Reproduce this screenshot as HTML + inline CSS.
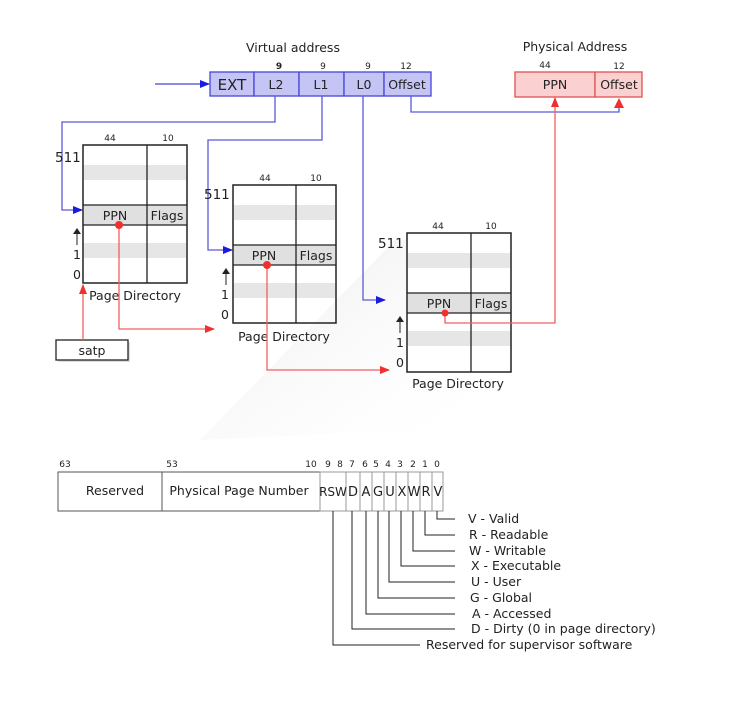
<!DOCTYPE html>
<html><head><meta charset="utf-8"><style>
html,body{margin:0;padding:0;background:#fff;width:756px;height:714px;overflow:hidden}
svg text{font-family:"DejaVu Sans","Liberation Sans",sans-serif;fill:#222}
</style></head><body>
<svg width="756" height="714" viewBox="0 0 756 714" xmlns="http://www.w3.org/2000/svg">
<defs>
<marker id="ab" markerWidth="10" markerHeight="8" refX="9" refY="4" orient="auto" markerUnits="userSpaceOnUse"><path d="M0,0 L10,4 L0,8 Z" fill="#1a1ae0"/></marker>
<marker id="ar" markerWidth="10" markerHeight="8" refX="9" refY="4" orient="auto" markerUnits="userSpaceOnUse"><path d="M0,0 L10,4 L0,8 Z" fill="#f03030"/></marker>
<marker id="ak" markerWidth="6" markerHeight="8" refX="5" refY="4" orient="auto" markerUnits="userSpaceOnUse"><path d="M0,0 L6,4 L0,8 Z" fill="#222"/></marker>
<linearGradient id="sh" x1="0" y1="0" x2="1" y2="1"><stop offset="0" stop-color="#e4e4e4"/><stop offset="1" stop-color="#fff" stop-opacity="0"/></linearGradient>
</defs>
<polygon points="395,240 407,240 407,372 480,395 420,430 200,440" fill="url(#sh)" opacity="0.8"/>

<text x="293" y="52" font-size="12.5" text-anchor="middle">Virtual address</text>
<g font-size="9" text-anchor="middle"><text x="279" y="69" font-weight="bold">9</text><text x="323" y="69">9</text><text x="368" y="69">9</text><text x="406" y="69">12</text></g>
<g fill="#c5c5f5" stroke="#4646d8" stroke-width="1.3">
<rect x="210" y="72" width="44" height="24"/><rect x="254" y="72" width="45" height="24"/><rect x="299" y="72" width="45" height="24"/><rect x="344" y="72" width="40" height="24"/><rect x="384" y="72" width="47" height="24"/>
</g>
<text x="232" y="90" font-size="15" text-anchor="middle">EXT</text>
<g font-size="12.5" text-anchor="middle"><text x="276" y="89">L2</text><text x="321" y="89">L1</text><text x="364" y="89">L0</text><text x="407" y="89">Offset</text></g>
<line x1="155" y1="84" x2="209" y2="84" stroke="#4646d8" stroke-width="1.3" marker-end="url(#ab)"/>

<text x="575" y="51" font-size="12.5" text-anchor="middle">Physical Address</text>
<g font-size="9" text-anchor="middle"><text x="545" y="68">44</text><text x="619" y="69">12</text></g>
<g fill="#fbd0d0" stroke="#e05050" stroke-width="1.3"><rect x="515" y="72" width="80" height="25"/><rect x="595" y="72" width="47" height="25"/></g>
<g font-size="12.5" text-anchor="middle"><text x="555" y="89">PPN</text><text x="619" y="89">Offset</text></g>

<g fill="none" stroke="#5a5ad8" stroke-width="1.3">
<polyline points="411,96 411,112 619,112 619,106"/>
<polyline points="275,96 275,122 62,122 62,210 82,210" marker-end="url(#ab)"/>
<polyline points="322,96 322,140 208,140 208,250 232,250" marker-end="url(#ab)"/>
<polyline points="363,96 363,300 385,300" marker-end="url(#ab)"/>
</g>

<g>
<rect x="84" y="165" width="102" height="15" fill="#e6e6e6"/><rect x="84" y="243" width="102" height="15" fill="#e6e6e6"/>
<rect x="84" y="205" width="102" height="20" fill="#e0e0e0"/>
<rect x="83" y="145" width="104" height="138" fill="none" stroke="#222" stroke-width="1.5"/>
<line x1="83" y1="205" x2="187" y2="205" stroke="#222" stroke-width="1.3"/><line x1="83" y1="225" x2="187" y2="225" stroke="#222" stroke-width="1.3"/>
<line x1="147" y1="145" x2="147" y2="283" stroke="#222" stroke-width="1.3"/>
<g font-size="9" text-anchor="middle"><text x="110" y="141">44</text><text x="168" y="141">10</text></g>
<text x="55" y="162" font-size="13.5">511</text>
<text x="115" y="220" font-size="12.5" text-anchor="middle">PPN</text><text x="167" y="220" font-size="12.5" text-anchor="middle">Flags</text>
<line x1="77" y1="245" x2="77" y2="229" stroke="#222" marker-end="url(#ak)"/>
<text x="77" y="259" font-size="12.5" text-anchor="middle">1</text><text x="77" y="279" font-size="12.5" text-anchor="middle">0</text>
<text x="135" y="300" font-size="12.5" text-anchor="middle">Page Directory</text>
</g>
<g>
<rect x="234" y="205" width="101" height="15" fill="#e6e6e6"/><rect x="234" y="283" width="101" height="15" fill="#e6e6e6"/>
<rect x="234" y="245" width="101" height="20" fill="#e0e0e0"/>
<rect x="233" y="185" width="103" height="138" fill="none" stroke="#222" stroke-width="1.5"/>
<line x1="233" y1="245" x2="336" y2="245" stroke="#222" stroke-width="1.3"/><line x1="233" y1="265" x2="336" y2="265" stroke="#222" stroke-width="1.3"/>
<line x1="296" y1="185" x2="296" y2="323" stroke="#222" stroke-width="1.3"/>
<g font-size="9" text-anchor="middle"><text x="265" y="181">44</text><text x="316" y="181">10</text></g>
<text x="204" y="199" font-size="13.5">511</text>
<text x="264" y="260" font-size="12.5" text-anchor="middle">PPN</text><text x="316" y="260" font-size="12.5" text-anchor="middle">Flags</text>
<line x1="226" y1="285" x2="226" y2="269" stroke="#222" marker-end="url(#ak)"/>
<text x="225" y="299" font-size="12.5" text-anchor="middle">1</text><text x="225" y="319" font-size="12.5" text-anchor="middle">0</text>
<text x="284" y="341" font-size="12.5" text-anchor="middle">Page Directory</text>
</g>
<g>
<rect x="408" y="253" width="102" height="15" fill="#e6e6e6"/><rect x="408" y="331" width="102" height="15" fill="#e6e6e6"/>
<rect x="408" y="293" width="102" height="20" fill="#e0e0e0"/>
<rect x="407" y="233" width="104" height="139" fill="none" stroke="#222" stroke-width="1.5"/>
<line x1="407" y1="293" x2="511" y2="293" stroke="#222" stroke-width="1.3"/><line x1="407" y1="313" x2="511" y2="313" stroke="#222" stroke-width="1.3"/>
<line x1="471" y1="233" x2="471" y2="372" stroke="#222" stroke-width="1.3"/>
<g font-size="9" text-anchor="middle"><text x="438" y="229">44</text><text x="491" y="229">10</text></g>
<text x="378" y="248" font-size="13.5">511</text>
<text x="439" y="308" font-size="12.5" text-anchor="middle">PPN</text><text x="491" y="308" font-size="12.5" text-anchor="middle">Flags</text>
<line x1="400" y1="333" x2="400" y2="317" stroke="#222" marker-end="url(#ak)"/>
<text x="400" y="347" font-size="12.5" text-anchor="middle">1</text><text x="400" y="367" font-size="12.5" text-anchor="middle">0</text>
<text x="458" y="388" font-size="12.5" text-anchor="middle">Page Directory</text>
</g>

<rect x="58" y="342" width="72" height="20" fill="#bbb" opacity="0.5"/>
<rect x="56" y="340" width="72" height="20" fill="#fff" stroke="#222" stroke-width="1.3"/>
<text x="92" y="355" font-size="12.5" text-anchor="middle">satp</text>

<g fill="none" stroke="#f06060" stroke-width="1.3">
<line x1="83" y1="340" x2="83" y2="285" marker-end="url(#ar)"/>
<polyline points="119,225 119,329 214,329" marker-end="url(#ar)"/>
<polyline points="267,265 267,370 389,370" marker-end="url(#ar)"/>
<polyline points="445,313 445,323 555,323 555,98" marker-end="url(#ar)"/>
</g>
<path d="M614,108 L619,98 L624,108 Z" fill="#f03030"/>
<g fill="#f03030"><circle cx="119" cy="225" r="4"/><circle cx="267" cy="265" r="4"/><circle cx="445" cy="313" r="3.5"/></g>

<g font-size="9" text-anchor="middle">
<text x="65" y="467">63</text><text x="172" y="467">53</text><text x="311" y="467">10</text>
<text x="328" y="467">9</text><text x="340" y="467">8</text><text x="352" y="467">7</text><text x="365" y="467">6</text><text x="376" y="467">5</text><text x="388" y="467">4</text><text x="400" y="467">3</text><text x="413" y="467">2</text><text x="425" y="467">1</text><text x="437" y="467">0</text>
</g>
<g fill="#fff" stroke="#555" stroke-width="1">
<rect x="58" y="472" width="104" height="39"/><rect x="162" y="472" width="158" height="39"/>
<g stroke="#999"><rect x="320" y="472" width="26" height="39"/><rect x="346" y="472" width="14" height="39"/><rect x="360" y="472" width="12" height="39"/><rect x="372" y="472" width="12" height="39"/><rect x="384" y="472" width="12" height="39"/><rect x="396" y="472" width="12" height="39"/><rect x="408" y="472" width="12" height="39"/><rect x="420" y="472" width="12" height="39"/><rect x="432" y="472" width="11" height="39"/></g>
</g>
<text x="115" y="495" font-size="12.5" text-anchor="middle">Reserved</text>
<text x="239" y="495" font-size="12.5" text-anchor="middle">Physical Page Number</text>
<g font-size="13" text-anchor="middle"><text x="333" y="496" font-size="12">RSW</text><text x="353" y="496">D</text><text x="366" y="496">A</text><text x="378" y="496">G</text><text x="390" y="496">U</text><text x="402" y="496">X</text><text x="414" y="496">W</text><text x="426" y="496">R</text><text x="438" y="496">V</text></g>

<g fill="none" stroke="#222" stroke-width="1">
<polyline points="437,511 437,519 455,519"/>
<polyline points="425,511 425,535 455,535"/>
<polyline points="413,511 413,551 455,551"/>
<polyline points="401,511 401,566 455,566"/>
<polyline points="389,511 389,582 455,582"/>
<polyline points="378,511 378,598 455,598"/>
<polyline points="366,511 366,614 455,614"/>
<polyline points="352,511 352,629 455,629"/>
<polyline points="333,511 333,645 420,645"/>
</g>
<g font-size="12.5">
<text x="468" y="523">V - Valid</text>
<text x="469" y="539">R  - Readable</text>
<text x="469" y="555">W - Writable</text>
<text x="471" y="570">X - Executable</text>
<text x="471" y="586">U - User</text>
<text x="470" y="602">G - Global</text>
<text x="472" y="618">A - Accessed</text>
<text x="471" y="633">D - Dirty (0 in page directory)</text>
<text x="426" y="649">Reserved for supervisor software</text>
</g>
</svg>
</body></html>
